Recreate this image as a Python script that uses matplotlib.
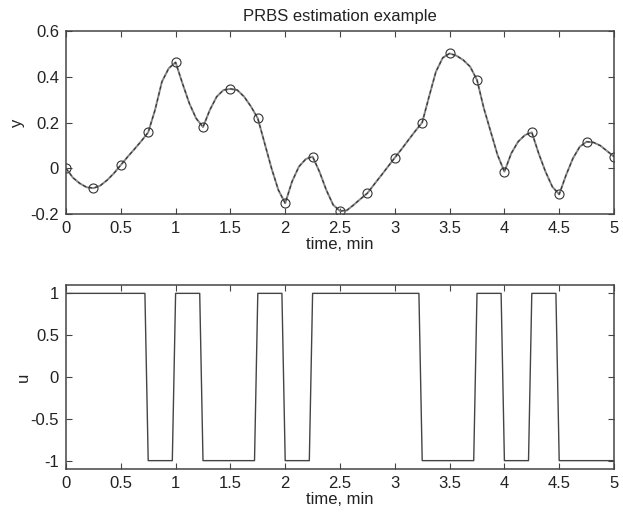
import numpy as np
import matplotlib
matplotlib.use("Agg")
import matplotlib.pyplot as plt

plt.rcParams['font.family'] = ['Liberation Sans', 'DejaVu Sans']

# sampled output (circles), every 0.25 min
t_samp = [0, 0.25, 0.5, 0.75, 1.0, 1.25, 1.5, 1.75, 2.0, 2.25, 2.5,
          2.75, 3.0, 3.25, 3.5, 3.75, 4.0, 4.25, 4.5, 4.75, 5.0]
y_samp = [0.0, -0.087, 0.014, 0.157, 0.463, 0.18, 0.347, 0.218, -0.153, 0.051, -0.187,
          -0.109, 0.046, 0.2, 0.502, 0.386, -0.015, 0.157, -0.114, 0.116, 0.051]

# continuous response (every 1/16 min)
t_curve = np.arange(0, 5.0001, 0.0625)
y_curve = [0.0, -0.041, -0.066, -0.083, -0.087, -0.076, -0.052, -0.022,
           0.014, 0.05, 0.084, 0.119, 0.157, 0.255, 0.378, 0.437,
           0.463, 0.371, 0.284, 0.218, 0.18, 0.255, 0.313, 0.342,
           0.347, 0.342, 0.313, 0.27, 0.218, 0.109, 0.0, -0.095,
           -0.153, -0.058, 0.007, 0.04, 0.051, -0.015, -0.095, -0.16,
           -0.187, -0.184, -0.16, -0.134, -0.109, -0.07, -0.032, 0.007,
           0.046, 0.084, 0.124, 0.163, 0.2, 0.313, 0.422, 0.483,
           0.502, 0.492, 0.473, 0.444, 0.386, 0.262, 0.16, 0.058,
           -0.015, 0.065, 0.116, 0.145, 0.157, 0.065, -0.015, -0.081,
           -0.114, -0.03, 0.043, 0.094, 0.116, 0.113, 0.099, 0.075,
           0.051]

# PRBS input breakpoints
t_u = [0, 0.72, 0.75, 0.97, 1.0, 1.22, 1.25, 1.72, 1.75, 1.97, 2.0, 2.22, 2.25,
       3.22, 3.25, 3.72, 3.75, 3.97, 4.0, 4.22, 4.25, 4.47, 4.5, 5.0]
u_vals = [1, 1, -1, -1, 1, 1, -1, -1, 1, 1, -1, -1, 1,
          1, -1, -1, 1, 1, -1, -1, 1, 1, -1, -1]

xticks = [0, 0.5, 1, 1.5, 2, 2.5, 3, 3.5, 4, 4.5, 5]
xticklabels = ['0', '0.5', '1', '1.5', '2', '2.5', '3', '3.5', '4', '4.5', '5']
yticks_top = [-0.2, 0, 0.2, 0.4, 0.6]
yticklabels_top = ['-0.2', '0', '0.2', '0.4', '0.6']
yticks_bot = [-1, -0.5, 0, 0.5, 1]
yticklabels_bot = ['-1', '-0.5', '0', '0.5', '1']

fs = 12
txt = '#222222'
spine_c = '#444444'

fig = plt.figure(figsize=(6.23, 5.14), dpi=100)
ax1 = fig.add_axes([66 / 623, 1 - 214 / 514, 548 / 623, 183 / 514])
ax2 = fig.add_axes([66 / 623, 1 - 469 / 514, 548 / 623, 184 / 514])

ax1.plot(t_curve, y_curve, color='#888888', lw=1.4, solid_capstyle='round')
ax1.plot(t_curve, y_curve, color='#333333', lw=0.8, dashes=(3, 2.5))
ax1.plot(t_samp, y_samp, 'o', ms=6.5, mfc='none', mec='#333333', mew=0.8)
ax1.set_xlim(0, 5)
ax1.set_ylim(-0.2, 0.6)
ax1.set_yticks(yticks_top)
ax1.set_yticklabels(yticklabels_top)
ax1.set_ylabel('y', fontsize=fs, color=txt, labelpad=4)
ax1.set_title('PRBS estimation example', fontsize=fs, color=txt, pad=7)

ax2.plot(t_u, u_vals, color='#444444', lw=1.0)
ax2.set_xlim(0, 5)
ax2.set_ylim(-1.1, 1.1)
ax2.set_yticks(yticks_bot)
ax2.set_yticklabels(yticklabels_bot)
ax2.set_ylabel('u', fontsize=fs, color=txt, labelpad=0)

for ax in (ax1, ax2):
    ax.set_xticks(xticks)
    ax.set_xticklabels(xticklabels)
    ax.set_xlabel('time, min', fontsize=fs, color=txt, labelpad=1)
    ax.tick_params(direction='in', length=4, width=0.8, colors=spine_c,
                   labelcolor=txt, labelsize=fs, top=True, right=True, pad=5)
    for s in ax.spines.values():
        s.set_color(spine_c)
        s.set_linewidth(1.1)

fig.savefig('out.png', dpi=100)
